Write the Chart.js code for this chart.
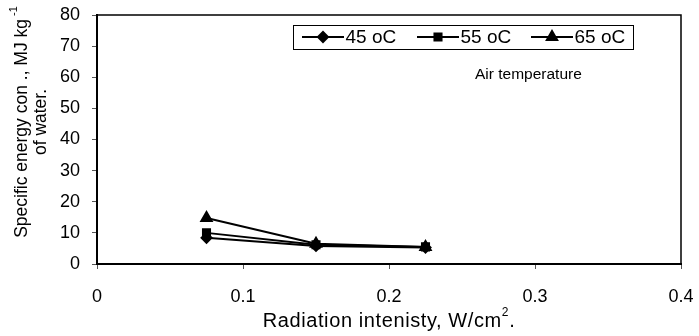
<!DOCTYPE html>
<html><head><meta charset="utf-8">
<script src="https://cdn.jsdelivr.net/npm/chart.js@4/dist/chart.umd.min.js"></script>
<style>
html,body{margin:0;padding:0;background:#fff;}
#wrap{position:relative;width:699px;height:336px;}
#legend{position:absolute;left:293px;top:25px;width:341px;height:25px;border:1.5px solid #000;box-sizing:border-box;font-family:"Liberation Sans",Arial,sans-serif;font-size:19px;}
.item{position:absolute;top:0;height:22px;display:flex;align-items:center;}
.item canvas{margin-right:2px;}
#note{position:absolute;left:475px;top:65px;font-family:"Liberation Sans",Arial,sans-serif;font-size:15.5px;}
</style></head>
<body><div id="wrap"><canvas id="c" width="699" height="336"></canvas>
<div id="legend"></div><div id="note">Air temperature</div></div>
<script>
const radiation = [0.075, 0.15, 0.225];
const seriesNames = ["45 oC", "55 oC", "65 oC"];
const t45 = [8.4, 5.8, 5.3];
const t55 = [10.0, 6.2, 5.5];
const t65 = [14.8, 6.5, 5.5];
const xTicks = [0, 0.1, 0.2, 0.3, 0.4];
const yTicks = [0, 10, 20, 30, 40, 50, 60, 70, 80];
const markers = ["rectRot", "rect", "triangle"];
const radii = [5, 5, 6];

const FONT = '"Liberation Sans", Arial, sans-serif';
const allSeries = [t45, t55, t65];
const datasets = allSeries.map((vals, i) => ({
  label: seriesNames[i],
  data: radiation.map((x, j) => ({x: x, y: vals[j]})),
  borderColor: '#000', backgroundColor: '#000', borderWidth: 2,
  pointStyle: markers[i], pointRadius: radii[i], pointHoverRadius: radii[i],
  showLine: true, tension: 0
}));

const frame = {
  id: 'frame',
  beforeDatasetsDraw(chart) {
    const a = chart.chartArea, ctx = chart.ctx;
    ctx.save(); ctx.strokeStyle = '#000'; ctx.lineWidth = 1.5;
    ctx.beginPath(); ctx.moveTo(a.left, a.top); ctx.lineTo(a.right, a.top); ctx.lineTo(a.right, a.bottom); ctx.stroke();
    ctx.restore();
  },
  afterDraw(chart) {
    const ctx = chart.ctx, a = chart.chartArea;
    ctx.save();
    ctx.fillStyle = '#000';
    // y title
    const cy = 122;
    ctx.translate(22, cy); ctx.rotate(-Math.PI/2);
    ctx.textAlign = 'left'; ctx.textBaseline = 'middle';
    const main = 'Specific energy con ., MJ kg';
    ctx.font = '17.5px ' + FONT;
    const w = ctx.measureText(main).width;
    ctx.font = '11px ' + FONT;
    const sw = ctx.measureText('-1').width + 3;
    const tot = w + sw;
    ctx.font = '17.5px ' + FONT;
    ctx.fillText(main, -tot/2, 0);
    ctx.font = '11px ' + FONT;
    ctx.fillText('-1', -tot/2 + w + 3, -8);
    ctx.font = '17.5px ' + FONT; ctx.textAlign = 'center';
    ctx.fillText('of water.', 0, 19);
    ctx.restore();
    // x title
    ctx.save(); ctx.fillStyle = '#000'; ctx.textBaseline = 'middle';
    ctx.letterSpacing = '0.6px';
    ctx.font = '20px ' + FONT;
    const t1 = 'Radiation intenisty, W/cm', t2 = '.';
    const w1 = ctx.measureText(t1).width, w3 = ctx.measureText(t2).width;
    ctx.font = '12px ' + FONT; const w2 = ctx.measureText('2').width;
    const cx = (a.left + a.right) / 2; let x0 = cx - (w1 + w2 + w3) / 2;
    ctx.font = '20px ' + FONT; ctx.textAlign = 'left';
    ctx.fillText(t1, x0, 321);
    ctx.font = '12px ' + FONT; ctx.fillText('2', x0 + w1, 313);
    ctx.font = '20px ' + FONT; ctx.fillText(t2, x0 + w1 + w2, 321);
    ctx.restore();
  }
};

new Chart(document.getElementById('c'), {
  type: 'scatter',
  data: { datasets },
  options: {
    responsive: false, animation: false, devicePixelRatio: 1,
    layout: { padding: { top: 15, right: 18, left: 0, bottom: 0 } },
    plugins: { legend: { display: false }, tooltip: { enabled: false } },
    scales: {
      x: {
        type: 'linear', min: 0, max: 0.4,
        afterBuildTicks: s => { s.ticks = xTicks.map(v => ({value: v})); },
        afterFit: s => { s.height = 72; s.paddingLeft = 0; s.paddingRight = 0; },
        grid: { drawOnChartArea: false, drawTicks: true, tickLength: 5, color: '#555', lineWidth: 1 },
        border: { color: '#000', width: 2 },
        ticks: { color: '#000', font: { family: FONT, size: 18 }, padding: 17, maxRotation: 0,
                 callback: v => String(v) }
      },
      y: {
        type: 'linear', min: 0, max: 80,
        afterBuildTicks: s => { s.ticks = yTicks.map(v => ({value: v})); },
        afterFit: s => { s.width = 97; s.paddingTop = 0; s.paddingBottom = 0; },
        grid: { drawOnChartArea: false, drawTicks: true, tickLength: 5, color: '#555', lineWidth: 1 },
        border: { color: '#000', width: 2 },
        ticks: { color: '#000', font: { family: FONT, size: 18 }, padding: 12 }
      }
    }
  },
  plugins: [frame]
});

// legend
const leg = document.getElementById('legend');
const itemLeft = [7.5, 122.5, 236.5];
seriesNames.forEach((name, i) => {
  const it = document.createElement('div'); it.className = 'item';
  it.style.left = itemLeft[i] + 'px';
  const cv = document.createElement('canvas'); cv.width = 42; cv.height = 16;
  const g = cv.getContext('2d');
  g.strokeStyle = '#000'; g.lineWidth = 2;
  g.beginPath(); g.moveTo(0, 8); g.lineTo(42, 8); g.stroke();
  Chart.helpers.drawPoint(g, { pointStyle: markers[i], radius: radii[i], borderWidth: 1 }, 21, 8);
  g.fillStyle = '#000'; g.fill();
  it.appendChild(cv);
  const sp = document.createElement('span'); sp.textContent = name; it.appendChild(sp);
  leg.appendChild(it);
});
</script></body></html>
